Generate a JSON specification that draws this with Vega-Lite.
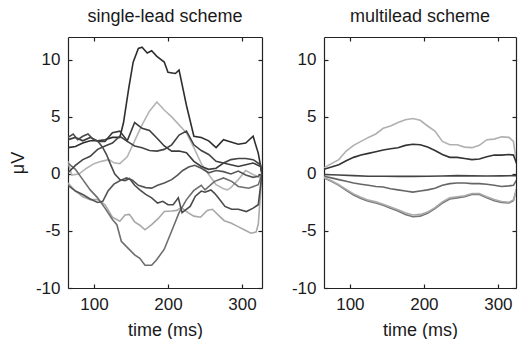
{
  "$schema": "https://vega.github.io/schema/vega-lite/v6.json",
  "padding": {"left": 9, "top": 8, "right": 0, "bottom": 0},
  "background": "white",
  "bounds": "flush",
  "spacing": 62,
  "resolve": {"scale": {"x": "independent", "y": "independent"}},
  "config": {
    "font": "Liberation Sans",
    "view": {"stroke": null},
    "axis": {
      "grid": false,
      "domainColor": "#222222",
      "domainWidth": 1.2,
      "tickColor": "#222222",
      "tickWidth": 1.2,
      "tickSize": -4,
      "labelFont": "Liberation Sans",
      "labelFontSize": 17,
      "labelColor": "#1a1a1a",
      "labelFlush": false,
      "labelOverlap": false,
      "labelPadding": 12,
      "titleFont": "Liberation Sans",
      "titleFontSize": 18,
      "titleFontWeight": "normal",
      "titleColor": "#1a1a1a"
    },
    "title": {"font": "Liberation Sans", "fontSize": 18, "fontWeight": "normal", "color": "#1a1a1a", "anchor": "middle", "baseline": "alphabetic", "offset": 10}
  },
  "datasets": {
    "single": [
      {"s":"A","t":65,"v":2.3},{"s":"A","t":75,"v":2.4},{"s":"A","t":85,"v":2.7},{"s":"A","t":95,"v":2.9},{"s":"A","t":105,"v":2.9},{"s":"A","t":115,"v":3.0},{"s":"A","t":125,"v":3.2},{"s":"A","t":135,"v":3.2},{"s":"A","t":140,"v":4.5},{"s":"A","t":147,"v":7.5},{"s":"A","t":153,"v":9.8},{"s":"A","t":160,"v":11.0},{"s":"A","t":165,"v":11.1},{"s":"A","t":172,"v":10.6},{"s":"A","t":178,"v":10.8},{"s":"A","t":185,"v":10.3},{"s":"A","t":195,"v":9.8},{"s":"A","t":200,"v":8.9},{"s":"A","t":210,"v":8.8},{"s":"A","t":215,"v":9.1},{"s":"A","t":225,"v":6.0},{"s":"A","t":235,"v":3.3},{"s":"A","t":245,"v":3.2},{"s":"A","t":255,"v":2.9},{"s":"A","t":265,"v":2.3},{"s":"A","t":275,"v":3.0},{"s":"A","t":285,"v":2.8},{"s":"A","t":295,"v":2.6},{"s":"A","t":305,"v":2.7},{"s":"A","t":315,"v":3.3},{"s":"A","t":322,"v":1.8},{"s":"A","t":327,"v":0},
      {"s":"B","t":65,"v":1.1},{"s":"B","t":70,"v":-0.1},{"s":"B","t":80,"v":0.0},{"s":"B","t":90,"v":0.5},{"s":"B","t":100,"v":0.9},{"s":"B","t":110,"v":1.1},{"s":"B","t":120,"v":1.25},{"s":"B","t":128,"v":0.95},{"s":"B","t":135,"v":0.9},{"s":"B","t":145,"v":1.5},{"s":"B","t":155,"v":2.9},{"s":"B","t":165,"v":4.3},{"s":"B","t":175,"v":5.5},{"s":"B","t":185,"v":6.3},{"s":"B","t":195,"v":5.6},{"s":"B","t":205,"v":5.0},{"s":"B","t":215,"v":4.3},{"s":"B","t":225,"v":3.6},{"s":"B","t":235,"v":2.3},{"s":"B","t":245,"v":0.9},{"s":"B","t":255,"v":-0.05},{"s":"B","t":265,"v":-0.95},{"s":"B","t":275,"v":-1.3},{"s":"B","t":280,"v":-1.4},{"s":"B","t":285,"v":-1.2},{"s":"B","t":295,"v":-0.5},{"s":"B","t":305,"v":0.3},{"s":"B","t":315,"v":-0.05},{"s":"B","t":325,"v":-0.35},{"s":"B","t":327,"v":0},
      {"s":"C","t":65,"v":-0.8},{"s":"C","t":75,"v":-1.5},{"s":"C","t":85,"v":-2.0},{"s":"C","t":95,"v":-2.25},{"s":"C","t":105,"v":-2.25},{"s":"C","t":115,"v":-2.7},{"s":"C","t":125,"v":-3.8},{"s":"C","t":135,"v":-4.15},{"s":"C","t":142,"v":-3.6},{"s":"C","t":148,"v":-3.55},{"s":"C","t":155,"v":-4.2},{"s":"C","t":162,"v":-4.5},{"s":"C","t":169,"v":-4.9},{"s":"C","t":178,"v":-4.45},{"s":"C","t":187,"v":-3.9},{"s":"C","t":195,"v":-3.3},{"s":"C","t":205,"v":-3.25},{"s":"C","t":212,"v":-3.2},{"s":"C","t":218,"v":-2.95},{"s":"C","t":227,"v":-3.4},{"s":"C","t":235,"v":-3.7},{"s":"C","t":244,"v":-3.8},{"s":"C","t":253,"v":-3.2},{"s":"C","t":260,"v":-3.1},{"s":"C","t":267,"v":-3.55},{"s":"C","t":276,"v":-4.1},{"s":"C","t":285,"v":-4.3},{"s":"C","t":294,"v":-4.6},{"s":"C","t":303,"v":-4.9},{"s":"C","t":312,"v":-5.2},{"s":"C","t":319,"v":-5.1},{"s":"C","t":322,"v":-4.4},{"s":"C","t":327,"v":0},
      {"s":"D","t":65,"v":0.95},{"s":"D","t":75,"v":0.4},{"s":"D","t":85,"v":-0.5},{"s":"D","t":95,"v":-1.4},{"s":"D","t":105,"v":-2.1},{"s":"D","t":115,"v":-3.0},{"s":"D","t":125,"v":-4.0},{"s":"D","t":131,"v":-4.45},{"s":"D","t":137,"v":-5.9},{"s":"D","t":146,"v":-6.5},{"s":"D","t":155,"v":-7.1},{"s":"D","t":162,"v":-7.4},{"s":"D","t":169,"v":-8.0},{"s":"D","t":178,"v":-8.0},{"s":"D","t":185,"v":-7.5},{"s":"D","t":195,"v":-6.6},{"s":"D","t":205,"v":-5.0},{"s":"D","t":215,"v":-3.4},{"s":"D","t":225,"v":-2.25},{"s":"D","t":235,"v":-1.45},{"s":"D","t":245,"v":-1.0},{"s":"D","t":250,"v":-1.4},{"s":"D","t":263,"v":-0.65},{"s":"D","t":275,"v":-0.35},{"s":"D","t":286,"v":-0.65},{"s":"D","t":295,"v":-1.1},{"s":"D","t":309,"v":-1.25},{"s":"D","t":322,"v":-0.95},{"s":"D","t":327,"v":0},
      {"s":"E","t":65,"v":3.0},{"s":"E","t":75,"v":3.2},{"s":"E","t":85,"v":2.9},{"s":"E","t":95,"v":3.2},{"s":"E","t":105,"v":2.85},{"s":"E","t":115,"v":2.85},{"s":"E","t":125,"v":3.6},{"s":"E","t":135,"v":3.75},{"s":"E","t":145,"v":2.9},{"s":"E","t":155,"v":4.5},{"s":"E","t":165,"v":4.0},{"s":"E","t":175,"v":3.8},{"s":"E","t":185,"v":3.15},{"s":"E","t":195,"v":2.45},{"s":"E","t":205,"v":2.0},{"s":"E","t":215,"v":2.0},{"s":"E","t":225,"v":1.85},{"s":"E","t":235,"v":1.1},{"s":"E","t":245,"v":0.65},{"s":"E","t":255,"v":0.4},{"s":"E","t":265,"v":0.5},{"s":"E","t":275,"v":0.95},{"s":"E","t":285,"v":0.8},{"s":"E","t":295,"v":0.65},{"s":"E","t":305,"v":0.8},{"s":"E","t":315,"v":0.95},{"s":"E","t":325,"v":0.65},{"s":"E","t":327,"v":0},
      {"s":"F","t":65,"v":0.1},{"s":"F","t":75,"v":0.75},{"s":"F","t":85,"v":1.25},{"s":"F","t":95,"v":1.55},{"s":"F","t":105,"v":2.15},{"s":"F","t":115,"v":2.45},{"s":"F","t":125,"v":2.7},{"s":"F","t":135,"v":3.3},{"s":"F","t":145,"v":2.85},{"s":"F","t":155,"v":2.45},{"s":"F","t":165,"v":2.3},{"s":"F","t":175,"v":2.05},{"s":"F","t":185,"v":2.0},{"s":"F","t":195,"v":2.15},{"s":"F","t":205,"v":2.55},{"s":"F","t":215,"v":3.4},{"s":"F","t":225,"v":3.75},{"s":"F","t":235,"v":2.55},{"s":"F","t":245,"v":2.05},{"s":"F","t":255,"v":1.7},{"s":"F","t":265,"v":1.1},{"s":"F","t":275,"v":0.95},{"s":"F","t":285,"v":1.25},{"s":"F","t":295,"v":1.35},{"s":"F","t":305,"v":1.35},{"s":"F","t":315,"v":1.25},{"s":"F","t":325,"v":0.8},{"s":"F","t":327,"v":0},
      {"s":"G","t":65,"v":3.2},{"s":"G","t":72,"v":3.5},{"s":"G","t":78,"v":3.0},{"s":"G","t":85,"v":3.3},{"s":"G","t":92,"v":3.5},{"s":"G","t":98,"v":3.1},{"s":"G","t":105,"v":2.9},{"s":"G","t":112,"v":2.3},{"s":"G","t":117,"v":1.7},{"s":"G","t":122,"v":0.9},{"s":"G","t":128,"v":0.0},{"s":"G","t":135,"v":-0.5},{"s":"G","t":142,"v":-0.6},{"s":"G","t":148,"v":-0.4},{"s":"G","t":155,"v":-1.0},{"s":"G","t":162,"v":-1.4},{"s":"G","t":170,"v":-1.8},{"s":"G","t":178,"v":-2.1},{"s":"G","t":186,"v":-2.55},{"s":"G","t":193,"v":-2.4},{"s":"G","t":200,"v":-2.7},{"s":"G","t":207,"v":-2.7},{"s":"G","t":214,"v":-2.1},{"s":"G","t":219,"v":-3.4},{"s":"G","t":230,"v":-2.85},{"s":"G","t":237,"v":-1.95},{"s":"G","t":245,"v":-1.5},{"s":"G","t":250,"v":-1.6},{"s":"G","t":258,"v":-1.4},{"s":"G","t":263,"v":-1.7},{"s":"G","t":268,"v":-2.1},{"s":"G","t":277,"v":-2.85},{"s":"G","t":286,"v":-3.1},{"s":"G","t":295,"v":-3.1},{"s":"G","t":306,"v":-3.3},{"s":"G","t":315,"v":-3.0},{"s":"G","t":322,"v":-2.7},{"s":"G","t":327,"v":0},
      {"s":"H","t":65,"v":-1.0},{"s":"H","t":75,"v":-1.5},{"s":"H","t":85,"v":-1.8},{"s":"H","t":95,"v":-2.2},{"s":"H","t":105,"v":-2.5},{"s":"H","t":112,"v":-2.4},{"s":"H","t":119,"v":-1.5},{"s":"H","t":127,"v":-0.9},{"s":"H","t":135,"v":-0.6},{"s":"H","t":144,"v":-0.35},{"s":"H","t":152,"v":-0.55},{"s":"H","t":160,"v":-1.0},{"s":"H","t":170,"v":-1.2},{"s":"H","t":178,"v":-1.25},{"s":"H","t":186,"v":-1.0},{"s":"H","t":195,"v":-0.8},{"s":"H","t":205,"v":-0.5},{"s":"H","t":213,"v":-0.1},{"s":"H","t":220,"v":0.3},{"s":"H","t":228,"v":0.6},{"s":"H","t":236,"v":0.75},{"s":"H","t":245,"v":0.5},{"s":"H","t":255,"v":0.1},{"s":"H","t":265,"v":0.3},{"s":"H","t":275,"v":0.2},{"s":"H","t":285,"v":0.0},{"s":"H","t":295,"v":0.25},{"s":"H","t":305,"v":-0.1},{"s":"H","t":315,"v":-0.3},{"s":"H","t":322,"v":-0.2},{"s":"H","t":327,"v":0}
    ],
    "multi": [
      {"s":"R1","t":65,"v":0.53},{"s":"R1","t":75,"v":0.9},{"s":"R1","t":85,"v":1.25},{"s":"R1","t":95,"v":2.0},{"s":"R1","t":105,"v":2.5},{"s":"R1","t":115,"v":2.85},{"s":"R1","t":125,"v":3.2},{"s":"R1","t":135,"v":3.5},{"s":"R1","t":145,"v":4.0},{"s":"R1","t":155,"v":4.2},{"s":"R1","t":165,"v":4.5},{"s":"R1","t":175,"v":4.75},{"s":"R1","t":185,"v":4.85},{"s":"R1","t":195,"v":4.7},{"s":"R1","t":205,"v":4.2},{"s":"R1","t":215,"v":3.75},{"s":"R1","t":225,"v":2.85},{"s":"R1","t":235,"v":2.55},{"s":"R1","t":245,"v":2.55},{"s":"R1","t":255,"v":2.35},{"s":"R1","t":265,"v":2.3},{"s":"R1","t":275,"v":2.5},{"s":"R1","t":285,"v":3.0},{"s":"R1","t":295,"v":3.05},{"s":"R1","t":305,"v":3.25},{"s":"R1","t":315,"v":3.2},{"s":"R1","t":321,"v":2.85},{"s":"R1","t":325,"v":1.1},{"s":"R1","t":327,"v":0.3},
      {"s":"R2","t":65,"v":0.4},{"s":"R2","t":75,"v":0.6},{"s":"R2","t":85,"v":0.8},{"s":"R2","t":95,"v":1.15},{"s":"R2","t":105,"v":1.45},{"s":"R2","t":115,"v":1.65},{"s":"R2","t":125,"v":1.8},{"s":"R2","t":135,"v":1.95},{"s":"R2","t":145,"v":2.1},{"s":"R2","t":155,"v":2.2},{"s":"R2","t":165,"v":2.3},{"s":"R2","t":175,"v":2.5},{"s":"R2","t":185,"v":2.6},{"s":"R2","t":195,"v":2.55},{"s":"R2","t":205,"v":2.35},{"s":"R2","t":215,"v":2.05},{"s":"R2","t":225,"v":1.7},{"s":"R2","t":235,"v":1.45},{"s":"R2","t":245,"v":1.45},{"s":"R2","t":255,"v":1.35},{"s":"R2","t":265,"v":1.25},{"s":"R2","t":275,"v":1.3},{"s":"R2","t":285,"v":1.5},{"s":"R2","t":295,"v":1.65},{"s":"R2","t":305,"v":1.65},{"s":"R2","t":315,"v":1.7},{"s":"R2","t":321,"v":1.65},{"s":"R2","t":327,"v":0.6},
      {"s":"R3","t":65,"v":-0.05},{"s":"R3","t":85,"v":-0.1},{"s":"R3","t":105,"v":-0.15},{"s":"R3","t":125,"v":-0.2},{"s":"R3","t":145,"v":-0.2},{"s":"R3","t":165,"v":-0.22},{"s":"R3","t":185,"v":-0.22},{"s":"R3","t":205,"v":-0.2},{"s":"R3","t":225,"v":-0.18},{"s":"R3","t":245,"v":-0.15},{"s":"R3","t":265,"v":-0.17},{"s":"R3","t":285,"v":-0.18},{"s":"R3","t":305,"v":-0.17},{"s":"R3","t":325,"v":-0.15},{"s":"R3","t":327,"v":-0.1},
      {"s":"R4","t":65,"v":-0.2},{"s":"R4","t":75,"v":-0.35},{"s":"R4","t":85,"v":-0.5},{"s":"R4","t":95,"v":-0.65},{"s":"R4","t":105,"v":-0.8},{"s":"R4","t":115,"v":-0.9},{"s":"R4","t":125,"v":-1.0},{"s":"R4","t":135,"v":-1.1},{"s":"R4","t":145,"v":-1.15},{"s":"R4","t":155,"v":-1.3},{"s":"R4","t":165,"v":-1.4},{"s":"R4","t":175,"v":-1.5},{"s":"R4","t":185,"v":-1.6},{"s":"R4","t":195,"v":-1.5},{"s":"R4","t":205,"v":-1.4},{"s":"R4","t":215,"v":-1.25},{"s":"R4","t":225,"v":-1.0},{"s":"R4","t":235,"v":-0.85},{"s":"R4","t":245,"v":-0.8},{"s":"R4","t":255,"v":-0.8},{"s":"R4","t":265,"v":-0.85},{"s":"R4","t":275,"v":-0.85},{"s":"R4","t":285,"v":-0.9},{"s":"R4","t":295,"v":-1.0},{"s":"R4","t":305,"v":-1.1},{"s":"R4","t":315,"v":-1.05},{"s":"R4","t":321,"v":-1.0},{"s":"R4","t":327,"v":-0.35},
      {"s":"R5","t":65,"v":-0.35},{"s":"R5","t":75,"v":-0.65},{"s":"R5","t":85,"v":-1.0},{"s":"R5","t":95,"v":-1.45},{"s":"R5","t":105,"v":-1.85},{"s":"R5","t":115,"v":-2.15},{"s":"R5","t":125,"v":-2.4},{"s":"R5","t":135,"v":-2.55},{"s":"R5","t":145,"v":-2.75},{"s":"R5","t":155,"v":-3.0},{"s":"R5","t":165,"v":-3.25},{"s":"R5","t":175,"v":-3.55},{"s":"R5","t":185,"v":-3.75},{"s":"R5","t":195,"v":-3.7},{"s":"R5","t":205,"v":-3.45},{"s":"R5","t":215,"v":-3.05},{"s":"R5","t":225,"v":-2.55},{"s":"R5","t":235,"v":-2.2},{"s":"R5","t":245,"v":-2.1},{"s":"R5","t":255,"v":-2.0},{"s":"R5","t":265,"v":-1.8},{"s":"R5","t":275,"v":-1.8},{"s":"R5","t":285,"v":-2.1},{"s":"R5","t":295,"v":-2.35},{"s":"R5","t":305,"v":-2.5},{"s":"R5","t":315,"v":-2.55},{"s":"R5","t":321,"v":-2.35},{"s":"R5","t":327,"v":-0.95},
      {"s":"R6","t":65,"v":-0.3},{"s":"R6","t":75,"v":-0.6},{"s":"R6","t":85,"v":-0.95},{"s":"R6","t":95,"v":-1.35},{"s":"R6","t":105,"v":-1.75},{"s":"R6","t":115,"v":-2.05},{"s":"R6","t":125,"v":-2.3},{"s":"R6","t":135,"v":-2.45},{"s":"R6","t":145,"v":-2.65},{"s":"R6","t":155,"v":-2.9},{"s":"R6","t":165,"v":-3.15},{"s":"R6","t":175,"v":-3.4},{"s":"R6","t":185,"v":-3.6},{"s":"R6","t":195,"v":-3.55},{"s":"R6","t":205,"v":-3.35},{"s":"R6","t":215,"v":-2.95},{"s":"R6","t":225,"v":-2.45},{"s":"R6","t":235,"v":-2.1},{"s":"R6","t":245,"v":-2.0},{"s":"R6","t":255,"v":-1.92},{"s":"R6","t":265,"v":-1.72},{"s":"R6","t":275,"v":-1.72},{"s":"R6","t":285,"v":-2.0},{"s":"R6","t":295,"v":-2.25},{"s":"R6","t":305,"v":-2.42},{"s":"R6","t":315,"v":-2.48},{"s":"R6","t":321,"v":-2.28},{"s":"R6","t":327,"v":-0.9}
    ]
  },
  "hconcat": [
    {
      "width": 194,
      "height": 251,
      "title": "single-lead scheme",
      "data": {"name": "single"},
      "layer": [
        {
          "mark": {"type": "line", "strokeWidth": 1.6, "clip": true},
          "encoding": {
            "x": {"field": "t", "type": "quantitative", "scale": {"domain": [65, 327], "nice": false, "zero": false}, "axis": {"orient": "bottom", "values": [100, 200, 300], "title": "time (ms)", "titlePadding": 9}},
            "y": {"field": "v", "type": "quantitative", "scale": {"domain": [-10, 12], "nice": false, "zero": false}, "axis": {"orient": "left", "values": [-10, -5, 0, 5, 10], "labelExpr": "toString(datum.value)", "title": "μV", "titlePadding": 8}},
            "color": {"field": "s", "type": "nominal", "legend": null, "scale": {"domain": ["A","B","C","D","E","F","G","H","R1","R2","R3","R4","R5","R6"], "range": ["#2e2e2e","#b4b4b4","#a8a8a8","#6e6e6e","#3c3c3c","#444444","#4a4a4a","#555555","#b0b0b0","#333333","#444444","#666666","#777777","#aaaaaa"]}}
          }
        },
        {
          "mark": {"type": "line", "opacity": 0},
          "encoding": {
            "x": {"field": "t", "type": "quantitative", "axis": {"orient": "top", "values": [100, 200, 300], "labels": false, "title": null}},
            "y": {"field": "v", "type": "quantitative", "axis": {"orient": "right", "values": [-10, -5, 0, 5, 10], "labels": false, "title": null}}
          }
        }
      ]
    },
    {
      "width": 192,
      "height": 251,
      "title": "multilead scheme",
      "data": {"name": "multi"},
      "layer": [
        {
          "mark": {"type": "line", "strokeWidth": 1.6, "clip": true},
          "encoding": {
            "x": {"field": "t", "type": "quantitative", "scale": {"domain": [65, 324.5], "nice": false, "zero": false}, "axis": {"orient": "bottom", "values": [100, 200, 300], "title": "time (ms)", "titlePadding": 9}},
            "y": {"field": "v", "type": "quantitative", "scale": {"domain": [-10, 12], "nice": false, "zero": false}, "axis": {"orient": "left", "values": [-10, -5, 0, 5, 10], "labelExpr": "toString(datum.value)", "title": null}},
            "color": {"field": "s", "type": "nominal", "legend": null, "scale": {"domain": ["A","B","C","D","E","F","G","H","R1","R2","R3","R4","R5","R6"], "range": ["#2e2e2e","#b4b4b4","#a8a8a8","#6e6e6e","#3c3c3c","#444444","#4a4a4a","#555555","#b0b0b0","#333333","#444444","#666666","#777777","#aaaaaa"]}}
          }
        },
        {
          "mark": {"type": "line", "opacity": 0},
          "encoding": {
            "x": {"field": "t", "type": "quantitative", "axis": {"orient": "top", "values": [100, 200, 300], "labels": false, "title": null}},
            "y": {"field": "v", "type": "quantitative", "axis": {"orient": "right", "values": [-10, -5, 0, 5, 10], "labels": false, "title": null}}
          }
        }
      ]
    }
  ]
}
